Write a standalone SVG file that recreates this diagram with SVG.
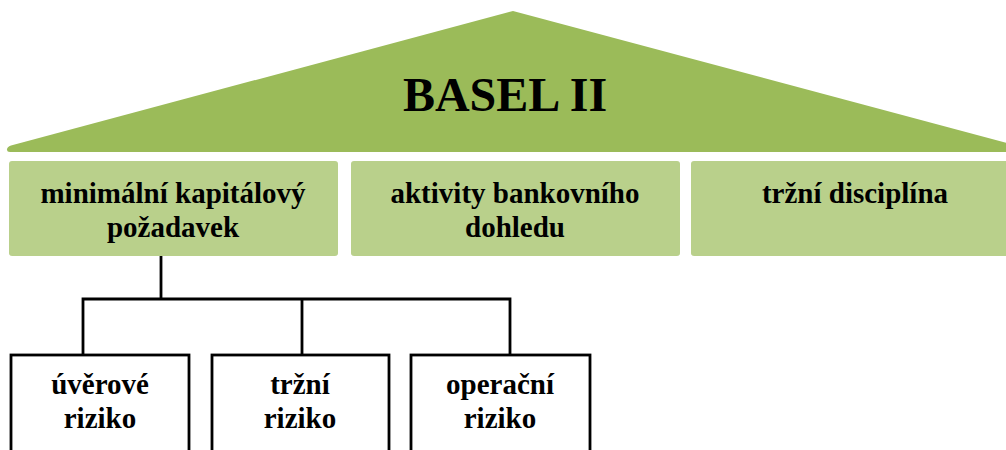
<svg xmlns="http://www.w3.org/2000/svg" width="1006" height="450" viewBox="0 0 1006 450">
<style>
.t{font-family:"Liberation Serif","Times New Roman",serif;font-weight:bold;fill:#000;text-anchor:middle}
.lbl{font-size:29px}
.pillar{fill:#b9d08b}
.risk{fill:#fff;stroke:#000;stroke-width:2.8}
.conn{fill:none;stroke:#000;stroke-width:2.8}
</style>
<rect width="1006" height="450" fill="#fff"/>
<g id="roof">
<path d="M11,145.5 L513,11 L1016,145.5 L1016,152 L10,152 Q7,152 7,149.5 Q7,147 11,145.5 Z" fill="#9bbb59"/>
<text class="t" x="505" y="111" font-size="48">BASEL II</text>
</g>
<g id="pillar1">
<rect class="pillar" x="9" y="161" width="329" height="95" rx="3"/>
<text class="t lbl" x="173" y="203">minimální kapitálový</text>
<text class="t lbl" x="173" y="237">požadavek</text>
</g>
<g id="pillar2">
<rect class="pillar" x="351" y="161" width="329" height="95" rx="3"/>
<text class="t lbl" x="515" y="203">aktivity bankovního</text>
<text class="t lbl" x="515" y="237">dohledu</text>
</g>
<g id="pillar3">
<rect class="pillar" x="691" y="161" width="330" height="95" rx="3"/>
<text class="t lbl" x="855" y="203">tržní disciplína</text>
</g>
<g id="connectors">
<path class="conn" d="M161,256 V299 M83,356 V299 H510 V356 M302,299 V356"/>
</g>
<g id="risk1">
<rect class="risk" x="11" y="355" width="178" height="110"/>
<text class="t lbl" x="100" y="394">úvěrové</text>
<text class="t lbl" x="100" y="428">riziko</text>
</g>
<g id="risk2">
<rect class="risk" x="212" y="355" width="177" height="110"/>
<text class="t lbl" x="300" y="394">tržní</text>
<text class="t lbl" x="300" y="428">riziko</text>
</g>
<g id="risk3">
<rect class="risk" x="411" y="355" width="179" height="110"/>
<text class="t lbl" x="500" y="394">operační</text>
<text class="t lbl" x="500" y="428">riziko</text>
</g>
</svg>
